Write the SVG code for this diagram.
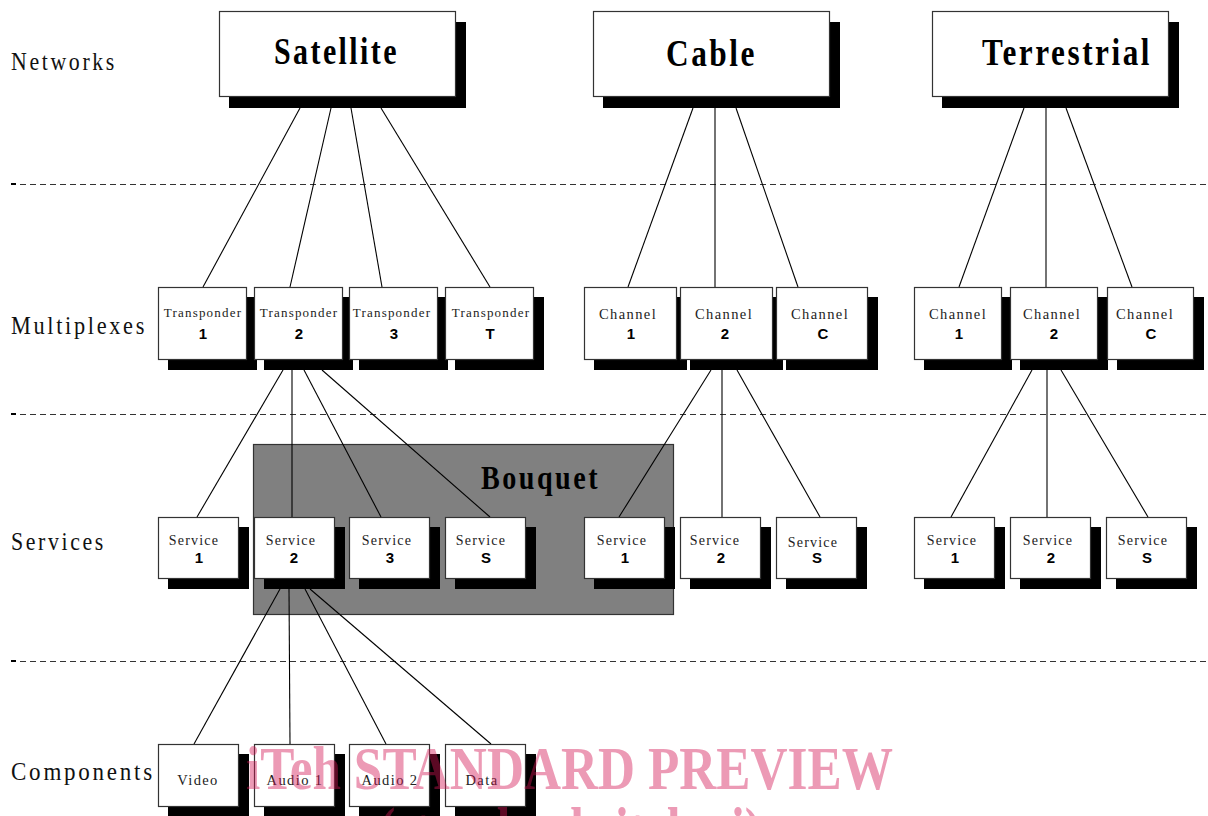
<svg xmlns="http://www.w3.org/2000/svg" width="1208" height="816" viewBox="0 0 1208 816">
<style>
.bg{fill:#fff}
.box{fill:#fff;stroke:#333;stroke-width:1.2}
.sh{fill:#000}
.conn line{stroke:#000;stroke-width:1.1}
.dash{stroke:#333;stroke-width:1;stroke-dasharray:6 4}
.tick{fill:#000}
.lbl{font-family:"Liberation Serif",serif;font-size:25px;letter-spacing:3px;fill:#111}
.net{font-family:"Liberation Serif",serif;font-weight:bold;font-size:37px;letter-spacing:3px;fill:#000}
.tp{font-family:"Liberation Serif",serif;font-size:13px;letter-spacing:1.2px;text-anchor:middle;fill:#222}
.ch{font-family:"Liberation Serif",serif;font-size:14.5px;letter-spacing:1.4px;text-anchor:middle;fill:#222}
.sv{font-family:"Liberation Serif",serif;font-size:14px;letter-spacing:1.2px;text-anchor:middle;fill:#222}
.cp{font-family:"Liberation Serif",serif;font-size:14.5px;letter-spacing:1.4px;text-anchor:middle;fill:#222}
.num{font-family:"Liberation Sans",sans-serif;font-weight:bold;font-size:15px;text-anchor:middle;fill:#000}
.bq{fill:#808080;stroke:#333;stroke-width:1.2}
.bqt{font-family:"Liberation Serif",serif;font-weight:bold;font-size:34px;letter-spacing:3px;fill:#000}
.wm{font-family:"Liberation Serif",serif;font-weight:bold;font-size:62px;fill:rgb(211,21,84);fill-opacity:0.43}
</style>
<rect class="bg" x="0" y="0" width="1208" height="816"/>

<g id="layers">
  <rect class="tick" x="11" y="183" width="5" height="2"/>
  <line class="dash" x1="20" y1="184.5" x2="1208" y2="184.5"/>
  <rect class="tick" x="11" y="413" width="5" height="2"/>
  <line class="dash" x1="20" y1="414.5" x2="1208" y2="414.5"/>
  <rect class="tick" x="11" y="660" width="5" height="2"/>
  <line class="dash" x1="20" y1="661.5" x2="1208" y2="661.5"/>
  <text class="lbl" x="11" y="70" textLength="106" lengthAdjust="spacingAndGlyphs">Networks</text>
  <text class="lbl" x="11" y="334" textLength="136" lengthAdjust="spacingAndGlyphs">Multiplexes</text>
  <text class="lbl" x="11" y="550" textLength="95" lengthAdjust="spacingAndGlyphs">Services</text>
  <text class="lbl" x="11" y="780" textLength="144" lengthAdjust="spacingAndGlyphs">Components</text>
</g>

<g id="bouquet">
  <rect class="bq" x="253.5" y="444.5" width="420" height="170"/>
  <text class="bqt" x="481" y="489" textLength="119" lengthAdjust="spacingAndGlyphs">Bouquet</text>
</g>

<g id="connectors" class="conn">
  <line x1="300" y1="108" x2="203" y2="287"/>
  <line x1="331" y1="108" x2="290" y2="287"/>
  <line x1="351" y1="108" x2="382" y2="287"/>
  <line x1="381" y1="108" x2="490" y2="287"/>
  <line x1="693" y1="108" x2="628" y2="287"/>
  <line x1="715" y1="108" x2="715" y2="287"/>
  <line x1="736" y1="108" x2="798" y2="287"/>
  <line x1="1024" y1="108" x2="959" y2="287"/>
  <line x1="1046" y1="108" x2="1046" y2="287"/>
  <line x1="1066" y1="108" x2="1132" y2="287"/>
  <line x1="283" y1="370" x2="197" y2="517"/>
  <line x1="292" y1="370" x2="292" y2="517"/>
  <line x1="304" y1="370" x2="381" y2="517"/>
  <line x1="322" y1="370" x2="490" y2="517"/>
  <line x1="711" y1="370" x2="619" y2="517"/>
  <line x1="722" y1="370" x2="722" y2="517"/>
  <line x1="737" y1="370" x2="820" y2="517"/>
  <line x1="1032" y1="370" x2="951" y2="517"/>
  <line x1="1047" y1="370" x2="1047" y2="517"/>
  <line x1="1061" y1="370" x2="1148" y2="517"/>
  <line x1="280" y1="589" x2="194" y2="744"/>
  <line x1="289" y1="589" x2="290" y2="744"/>
  <line x1="305" y1="589" x2="386" y2="744"/>
  <line x1="310" y1="589" x2="491" y2="744"/>
</g>

<g id="net-satellite"><rect class="sh" x="229" y="22" width="237" height="86"/><rect class="box" x="219.5" y="11.5" width="236" height="85"/><text class="net" x="274" y="64" textLength="125" lengthAdjust="spacingAndGlyphs">Satellite</text></g>
<g id="net-cable"><rect class="sh" x="603" y="22" width="237" height="86"/><rect class="box" x="593.5" y="11.5" width="236" height="85"/><text class="net" x="666" y="66" textLength="91" lengthAdjust="spacingAndGlyphs">Cable</text></g>
<g id="net-terrestrial"><rect class="sh" x="942" y="22" width="237" height="86"/><rect class="box" x="932.5" y="11.5" width="236" height="85"/><text class="net" x="982" y="65" textLength="170" lengthAdjust="spacingAndGlyphs">Terrestrial</text></g>

<g id="tp1"><rect class="sh" x="168" y="297" width="89" height="73"/><rect class="box" x="158.5" y="287.5" width="88" height="72"/><text class="tp" x="203" y="317">Transponder</text><text class="num" x="203" y="339">1</text></g>
<g id="tp2"><rect class="sh" x="264" y="297" width="89" height="73"/><rect class="box" x="254.5" y="287.5" width="88" height="72"/><text class="tp" x="299" y="317">Transponder</text><text class="num" x="299" y="339">2</text></g>
<g id="tp3"><rect class="sh" x="359" y="297" width="89" height="73"/><rect class="box" x="349.5" y="287.5" width="88" height="72"/><text class="tp" x="392" y="317">Transponder</text><text class="num" x="394" y="339">3</text></g>
<g id="tpT"><rect class="sh" x="455" y="297" width="89" height="73"/><rect class="box" x="445.5" y="287.5" width="88" height="72"/><text class="tp" x="491" y="317">Transponder</text><text class="num" x="490" y="339">T</text></g>

<g id="cch1"><rect class="sh" x="594" y="297" width="93" height="73"/><rect class="box" x="584.5" y="287.5" width="92" height="72"/><text class="ch" x="628" y="319">Channel</text><text class="num" x="631" y="339">1</text></g>
<g id="cch2"><rect class="sh" x="690" y="297" width="93" height="73"/><rect class="box" x="680.5" y="287.5" width="92" height="72"/><text class="ch" x="724" y="319">Channel</text><text class="num" x="725" y="339">2</text></g>
<g id="cchC"><rect class="sh" x="786" y="297" width="92" height="73"/><rect class="box" x="776.5" y="287.5" width="91" height="72"/><text class="ch" x="820" y="319">Channel</text><text class="num" x="823" y="339">C</text></g>

<g id="tch1"><rect class="sh" x="924" y="297" width="88" height="73"/><rect class="box" x="914.5" y="287.5" width="87" height="72"/><text class="ch" x="958" y="319">Channel</text><text class="num" x="959" y="339">1</text></g>
<g id="tch2"><rect class="sh" x="1020" y="297" width="88" height="73"/><rect class="box" x="1010.5" y="287.5" width="87" height="72"/><text class="ch" x="1052" y="319">Channel</text><text class="num" x="1054" y="339">2</text></g>
<g id="tchC"><rect class="sh" x="1117" y="297" width="87" height="73"/><rect class="box" x="1107.5" y="287.5" width="86" height="72"/><text class="ch" x="1145" y="319">Channel</text><text class="num" x="1151" y="339">C</text></g>

<g id="ssv1"><rect class="sh" x="168" y="527" width="81" height="62"/><rect class="box" x="158.5" y="517.5" width="80" height="61"/><text class="sv" x="194" y="545">Service</text><text class="num" x="199" y="563">1</text></g>
<g id="ssv2"><rect class="sh" x="264" y="527" width="81" height="62"/><rect class="box" x="254.5" y="517.5" width="80" height="61"/><text class="sv" x="291" y="545">Service</text><text class="num" x="294" y="563">2</text></g>
<g id="ssv3"><rect class="sh" x="359" y="527" width="81" height="62"/><rect class="box" x="349.5" y="517.5" width="80" height="61"/><text class="sv" x="387" y="545">Service</text><text class="num" x="390" y="563">3</text></g>
<g id="ssvS"><rect class="sh" x="455" y="527" width="81" height="62"/><rect class="box" x="445.5" y="517.5" width="80" height="61"/><text class="sv" x="481" y="545">Service</text><text class="num" x="486" y="563">S</text></g>

<g id="csv1"><rect class="sh" x="594" y="527" width="81" height="62"/><rect class="box" x="584.5" y="517.5" width="80" height="61"/><text class="sv" x="622" y="545">Service</text><text class="num" x="625" y="563">1</text></g>
<g id="csv2"><rect class="sh" x="690" y="527" width="81" height="62"/><rect class="box" x="680.5" y="517.5" width="80" height="61"/><text class="sv" x="715" y="545">Service</text><text class="num" x="721" y="563">2</text></g>
<g id="csvS"><rect class="sh" x="786" y="527" width="81" height="62"/><rect class="box" x="776.5" y="517.5" width="80" height="61"/><text class="sv" x="813" y="547">Service</text><text class="num" x="817" y="563">S</text></g>

<g id="tsv1"><rect class="sh" x="924" y="527" width="81" height="62"/><rect class="box" x="914.5" y="517.5" width="80" height="61"/><text class="sv" x="952" y="545">Service</text><text class="num" x="955" y="563">1</text></g>
<g id="tsv2"><rect class="sh" x="1020" y="527" width="81" height="62"/><rect class="box" x="1010.5" y="517.5" width="80" height="61"/><text class="sv" x="1048" y="545">Service</text><text class="num" x="1051" y="563">2</text></g>
<g id="tsvS"><rect class="sh" x="1116" y="527" width="81" height="62"/><rect class="box" x="1106.5" y="517.5" width="80" height="61"/><text class="sv" x="1143" y="545">Service</text><text class="num" x="1147" y="563">S</text></g>

<g id="cmp-video"><rect class="sh" x="168" y="754" width="81" height="62"/><rect class="box" x="158.5" y="744.5" width="80" height="62"/><text class="cp" x="198" y="785">Video</text></g>
<g id="cmp-audio1"><rect class="sh" x="264" y="754" width="81" height="62"/><rect class="box" x="254.5" y="744.5" width="80" height="62"/><text class="cp" x="295" y="785">Audio 1</text></g>
<g id="cmp-audio2"><rect class="sh" x="359" y="754" width="81" height="62"/><rect class="box" x="349.5" y="744.5" width="80" height="62"/><text class="cp" x="390" y="785">Audio 2</text></g>
<g id="cmp-data"><rect class="sh" x="455" y="754" width="81" height="62"/><rect class="box" x="445.5" y="744.5" width="80" height="62"/><text class="cp" x="482" y="785">Data</text></g>

<g id="watermark">
  <text class="wm" x="246" y="789" textLength="647" lengthAdjust="spacingAndGlyphs">iTeh STANDARD PREVIEW</text>
  <text class="wm" x="379" y="850" textLength="382" lengthAdjust="spacingAndGlyphs">(standards.iteh.ai)</text>
</g>
</svg>
